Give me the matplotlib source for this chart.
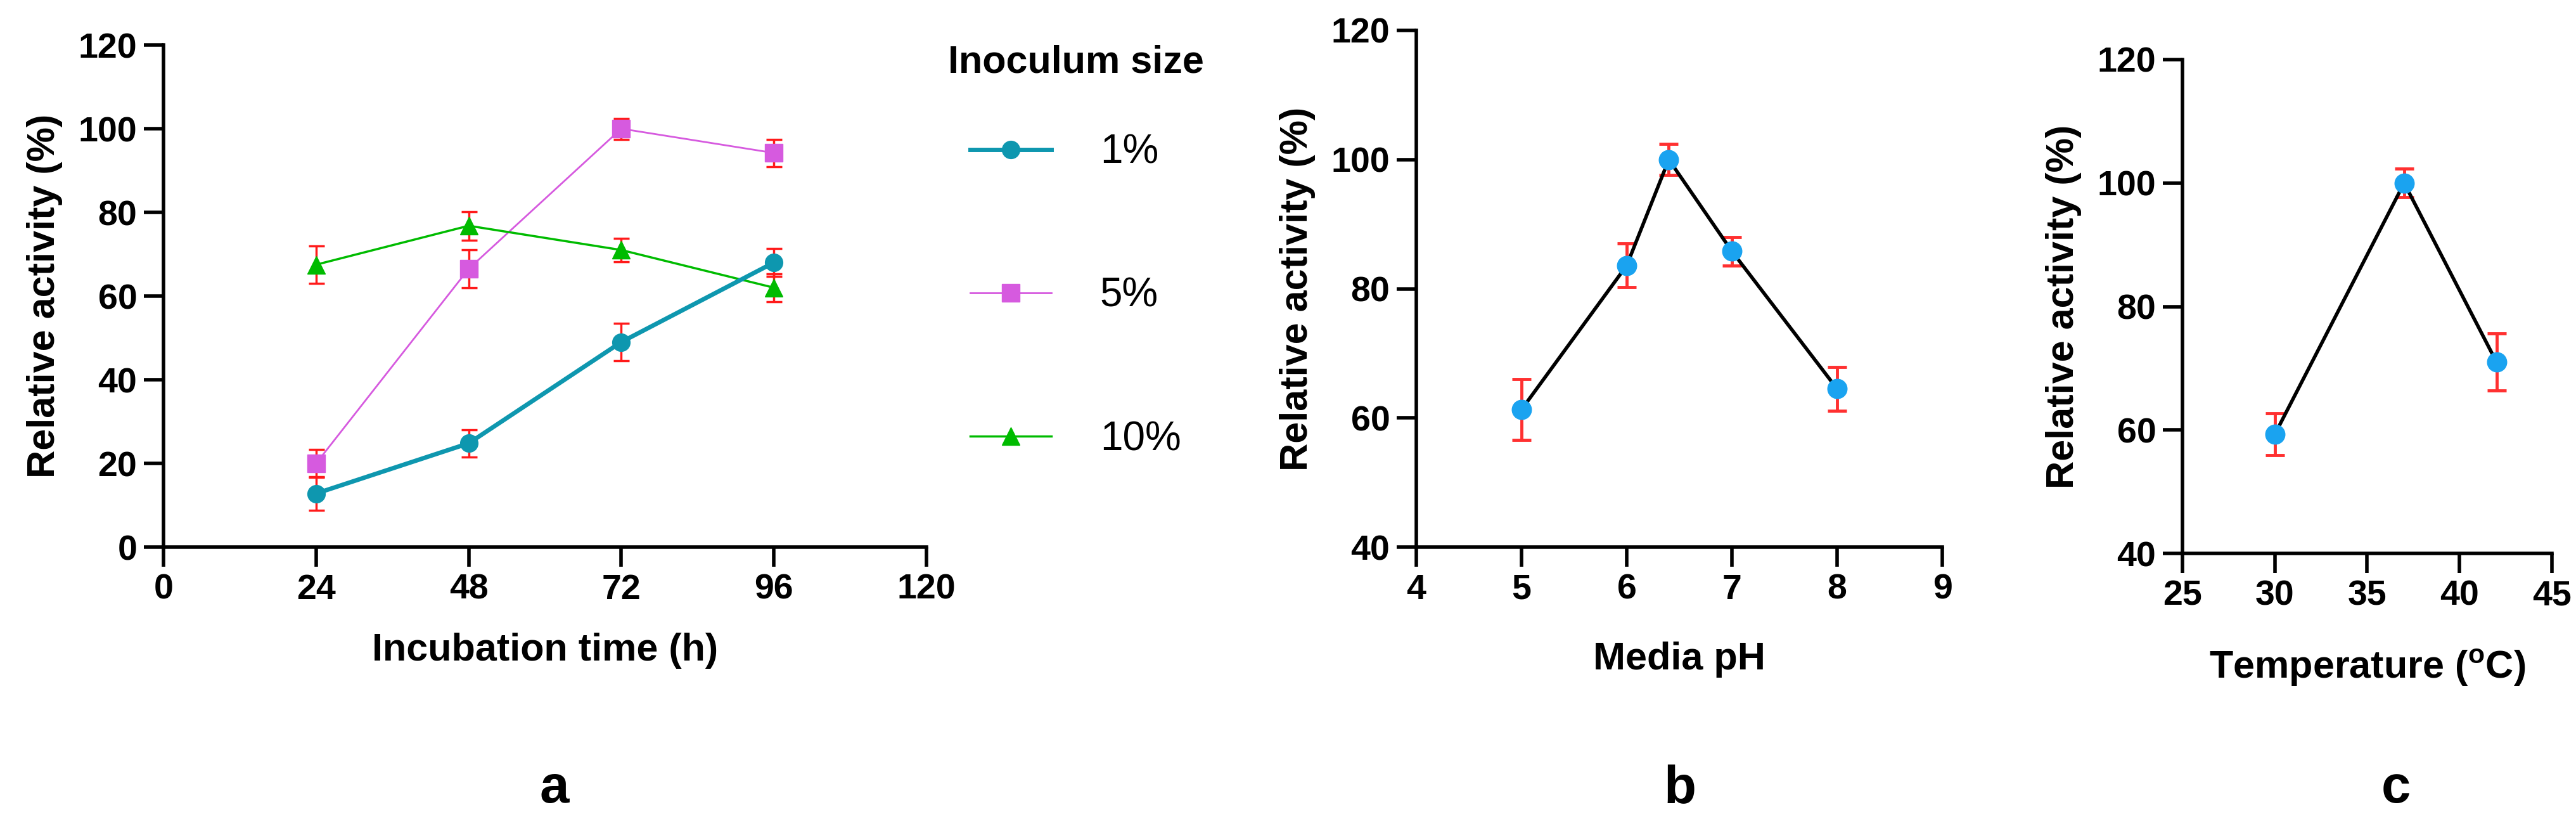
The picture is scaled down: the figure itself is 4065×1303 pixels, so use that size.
import matplotlib
matplotlib.use("Agg")
import matplotlib.pyplot as plt
from matplotlib.font_manager import FontProperties
from matplotlib.lines import Line2D

# ---- data ----
time_h = [24, 48, 72, 96]
inoc_labels = ["1%", "5%", "10%"]
act_1 = [12.8, 24.8, 49.0, 68.0]
err_1 = [4.0, 3.3, 4.5, 3.3]
act_5 = [20.0, 66.5, 100.0, 94.2]
err_5 = [3.3, 4.5, 2.5, 3.3]
act_10 = [67.5, 76.8, 71.0, 62.0]
err_10 = [4.5, 3.4, 2.8, 3.3]

ph = [5, 6, 6.4, 7, 8]
act_ph = [61.3, 83.6, 100.0, 85.8, 64.5]
err_ph = [4.7, 3.4, 2.4, 2.2, 3.4]

temp = [30, 37, 42]
act_t = [59.3, 100.0, 71.0]
err_t = [3.4, 2.3, 4.6]

W, H = 4066, 1303
fig = plt.figure(figsize=(W / 100, H / 100), dpi=100)

fam = "Liberation Sans"
tickfont = dict(family=fam, weight="bold", size=40)
labfont = dict(family=fam, weight="bold", size=44)
xlabfont = dict(family=fam, weight="bold", size=44)

def box(l, r, t, b):
    return [l / W, 1 - b / H, (r - l) / W, (b - t) / H]

def style(ax):
    for s in ["top", "right"]:
        ax.spines[s].set_visible(False)
    for s in ["left", "bottom"]:
        ax.spines[s].set_linewidth(4)
    ax.tick_params(width=4, length=22, pad=8)
    for lab in ax.get_xticklabels() + ax.get_yticklabels():
        lab.set_fontproperties(FontProperties(**tickfont))

# ---- panel a ----
axa = fig.add_axes(box(258, 1462, 71, 863))
ekw = dict(ecolor="#FF1A1A", elinewidth=2.5, capsize=9, capthick=2.5)
c1, c5, c10 = "#0E97AF", "#D65ADF", "#00BB00"
axa.errorbar(time_h, act_5, yerr=err_5, color=c5, marker="s", ms=20, lw=2, **ekw)
axa.errorbar(time_h, act_10, yerr=err_10, color=c10, marker="^", ms=20, lw=2.5, **ekw)
axa.errorbar(time_h, act_1, yerr=err_1, color=c1, marker="o", ms=20, lw=5, **ekw)
axa.set_xlim(0, 120)
axa.set_ylim(0, 120)
axa.set_xticks([0, 24, 48, 72, 96, 120])
axa.set_yticks(range(0, 121, 20))
axa.set_xlabel("Incubation time (h)", labelpad=30, **xlabfont)
axa.set_ylabel("Relative activity (%)", labelpad=18, **labfont)
style(axa)
handles = [Line2D([], [], color=c1, marker="o", ms=20, lw=5),
           Line2D([], [], color=c5, marker="s", ms=20, lw=2),
           Line2D([], [], color=c10, marker="^", ms=20, lw=2.5)]
leg = axa.legend(handles, inoc_labels, loc="upper left",
                 bbox_to_anchor=(1470 / W, 1 - 45 / H), bbox_transform=fig.transFigure,
                 frameon=False, title="Inoculum size", labelspacing=2.6,
                 handlelength=2.0, handletextpad=1.2, borderaxespad=0,
                 prop=FontProperties(family=fam, size=46),
                 title_fontproperties=FontProperties(family=fam, weight="bold", size=44))
leg._legend_box.sep = 60
for t in leg.get_texts():
    pass

# ---- panel b ----
bkw = dict(color="black", lw=4, marker="o", ms=22, mfc="#1AA3F0", mec="#1AA3F0",
           ecolor="#FF3030", elinewidth=3.5, capsize=11, capthick=3.5)
axb = fig.add_axes(box(2235, 3065, 48, 863))
axb.errorbar(ph, act_ph, yerr=err_ph, **bkw)
axb.set_xlim(4, 9)
axb.set_ylim(40, 120)
axb.set_xticks(range(4, 10))
axb.set_yticks(range(40, 121, 20))
axb.set_xlabel("Media pH", labelpad=40, **xlabfont)
axb.set_ylabel("Relative activity (%)", labelpad=18, **labfont)
style(axb)

# ---- panel c ----
axc = fig.add_axes(box(3444, 4027, 94, 873))
axc.errorbar(temp, act_t, yerr=err_t, **bkw)
axc.set_xlim(25, 45)
axc.set_ylim(40, 120)
axc.set_xticks(range(25, 46, 5))
axc.set_yticks(range(40, 121, 20))
axc.set_xlabel("Temperature ($^{\\mathregular{o}}$C)", labelpad=40, **xlabfont)
axc.set_ylabel("Relative activity (%)", labelpad=18, **labfont)
style(axc)

for txt, x in [("a", 875), ("b", 2651), ("c", 3781)]:
    fig.text(x / W, 1 - 1244 / H, txt, ha="center", va="center",
             family=fam, weight="bold", size=60)

fig.savefig("out.png", dpi=100, facecolor="white")
